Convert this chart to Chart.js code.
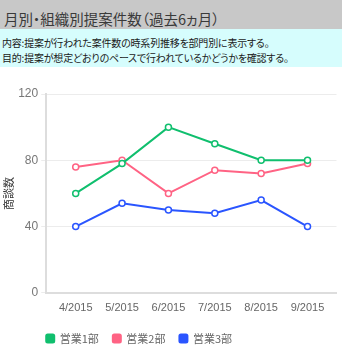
<!DOCTYPE html>
<html>
<head>
<meta charset="utf-8">
<script src="https://cdn.jsdelivr.net/npm/chart.js@4"></script>
<style>
  html, body { margin: 0; padding: 0; background: #fff; }
  body { width: 342px; height: 345px; overflow: hidden; font-family: "Noto Sans CJK JP", sans-serif; font-feature-settings: "palt"; }
  .head { height: 25px; padding-top: 4px; background: #c8c8c8; color: #3a3a3a; font-size: 14.5px; line-height: 29px; padding-left: 4px; overflow: hidden; }
  .desc { height: 38px; background: #d6fdfd; color: #1a1a1a; font-size: 10px; padding-left: 2px; box-sizing: border-box; padding-top: 6px; line-height: 15px; letter-spacing: -0.2px; }
  .box { position: relative; width: 342px; height: 287px; }
</style>
</head>
<body>
<div class="head">月別・組織別提案件数（過去6ヵ月）</div>
<div class="desc">内容:提案が行われた案件数の時系列推移を部門別に表示する。<br>目的:提案が想定どおりのペースで行われているかどうかを確認する。</div>
<div class="box"><canvas id="proposalChart"></canvas></div>
<script>
/****************************** 提案件数 ********************************/
const months = ["4/2015", "5/2015", "6/2015", "7/2015", "8/2015", "9/2015"];
const dept1 = [60, 78, 100, 90, 80, 80];
const dept2 = [76, 80, 60, 74, 72, 78];
const dept3 = [40, 54, 50, 48, 56, 40];
const yTicks = [0, 40, 80, 120];

const series = [
    { label: "営業1部", data: dept1, color: "#10bf6e" },
    { label: "営業2部", data: dept2, color: "#ff6384" },
    { label: "営業3部", data: dept3, color: "#2a55ff" },
];

// legend starts at the chart area's left edge
const legendShift = {
    id: "legendShift",
    afterLayout(chart) {
        chart.legend.left -= chart.legend.options.labels.padding;
    }
};

new Chart("proposalChart", {
    type: "line",
    data: {
        datasets: series.map(s => ({
            label: s.label,
            data: s.data.map((v, i) => ({ x: i, y: v })),
            borderColor: s.color,
            backgroundColor: s.color,
            pointBackgroundColor: "#fff",
            pointBorderColor: s.color,
            pointBorderWidth: 1.5,
            pointRadius: 3,
            borderWidth: 2,
            tension: 0,
        }))
    },
    options: {
        responsive: true,
        maintainAspectRatio: false,
        animation: false,
        layout: { padding: { top: 27, right: 3, left: 0, bottom: 0 } },
        plugins: {
            tooltip: { enabled: false },
            legend: {
                position: "bottom",
                align: "start",
                fullSize: false,
                labels: {
                    boxWidth: 8,
                    boxHeight: 8,
                    useBorderRadius: true,
                    borderRadius: 1.5,
                    padding: 14,
                    color: "#666",
                    font: { size: 11, family: "'Noto Sans CJK JP', sans-serif" }
                }
            }
        },
        scales: {
            x: {
                type: "linear",
                min: -0.636,
                max: 5.625,
                afterFit: s => { s.height += 3; },
                grid: { display: false },
                border: { color: "#dddddd", width: 2 },
                ticks: {
                    stepSize: 1,
                    includeBounds: false,
                    padding: 1,
                    color: "#666",
                    font: { size: 11, family: "Arial, 'Liberation Sans', sans-serif" },
                    callback: v => months[v]
                }
            },
            y: {
                min: 0,
                max: 120,
                afterBuildTicks: axis => { axis.ticks = yTicks.map(v => ({ value: v })); },
                grid: { color: "#ececec", tickLength: 5 },
                border: { color: "#dddddd", width: 2 },
                ticks: {
                    color: "#777",
                    padding: 3,
                    font: { size: 12, family: "Arial, 'Liberation Sans', sans-serif" }
                },
                title: {
                    display: true,
                    text: "商談数",
                    color: "#333",
                    padding: { top: 2, bottom: 0 },
                    font: { size: 11, family: "'Noto Sans CJK JP', sans-serif" }
                }
            }
        }
    },
    plugins: [legendShift]
});
</script>
</body>
</html>
